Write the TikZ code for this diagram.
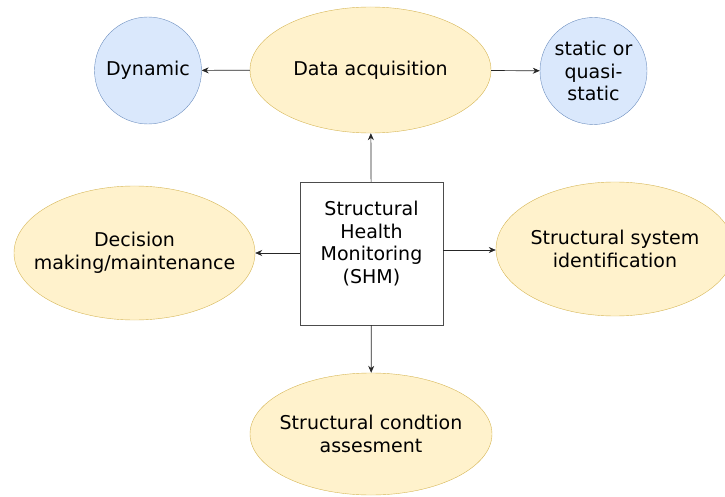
\documentclass[tikz,border=0pt]{standalone}
\usepackage{fontspec}
\setmainfont{DejaVu Sans}
\usepackage{tikz}
\usetikzlibrary{shapes,arrows,arrows.meta,positioning}

\definecolor{ellfill}{HTML}{FFF2CC}
\definecolor{elldraw}{HTML}{D6B656}
\definecolor{circfill}{HTML}{DAE8FC}
\definecolor{circdraw}{HTML}{6C8EBF}

\begin{document}
\begin{tikzpicture}[x=1pt,y=-1pt]
          %% SHM overview

          \tikzstyle{every edge}=[->,>={Stealth[length=7pt,width=6pt]},line width=0.7pt,draw,black!85]
          \tikzstyle{every node}=[font=\fontsize{19}{22.5}\selectfont, align=center, inner sep=0pt]
          \tikzstyle{task}=[ellipse, fill=ellfill, draw=elldraw, minimum width=241pt, minimum height=134pt]
          \tikzstyle{kind}=[circle, fill=circfill, draw=circdraw, minimum size=107pt]
          \tikzstyle{every label}=[align=center]

          \useasboundingbox (0,0) rectangle (725,497);

          % centre box
          \node[draw=black!70, fill=white, minimum width=143pt, minimum height=143pt] (shm) at (371.5,253.5)
          {Structural\\Health\\Monitoring\\(SHM)\\ \mbox{}};

          % top row
          \node[task, minimum height=126pt, label=center:{Data acquisition}] (acq) at (370.5,70) {};
          \node[kind] (dyn) at (148,70.5) {Dynamic};
          \node[kind] (stat) at (593.5,71) {static or\\quasi-\\static};

          % middle row
          \node[task, label=center:{Decision\\making/maintenance}] (dec) at (134.5,253) {};
          \node[task, minimum width=238pt, label=center:{Structural system\\identification}] (ident) at (615,249) {};

          % bottom
          \node[task, minimum width=242pt, minimum height=122pt,
            label=center:{Structural condtion\\assesment}] (cond) at (371,434) {};

          \path (acq) edge (dyn)
          (acq) edge (stat)
          (shm) edge (acq)
          (shm) edge (cond)
          (shm.west |- dec.east) edge (dec.east)
          (shm.east |- 0,250) edge (ident.west |- 0,250);
        \end{tikzpicture}
\end{document}
